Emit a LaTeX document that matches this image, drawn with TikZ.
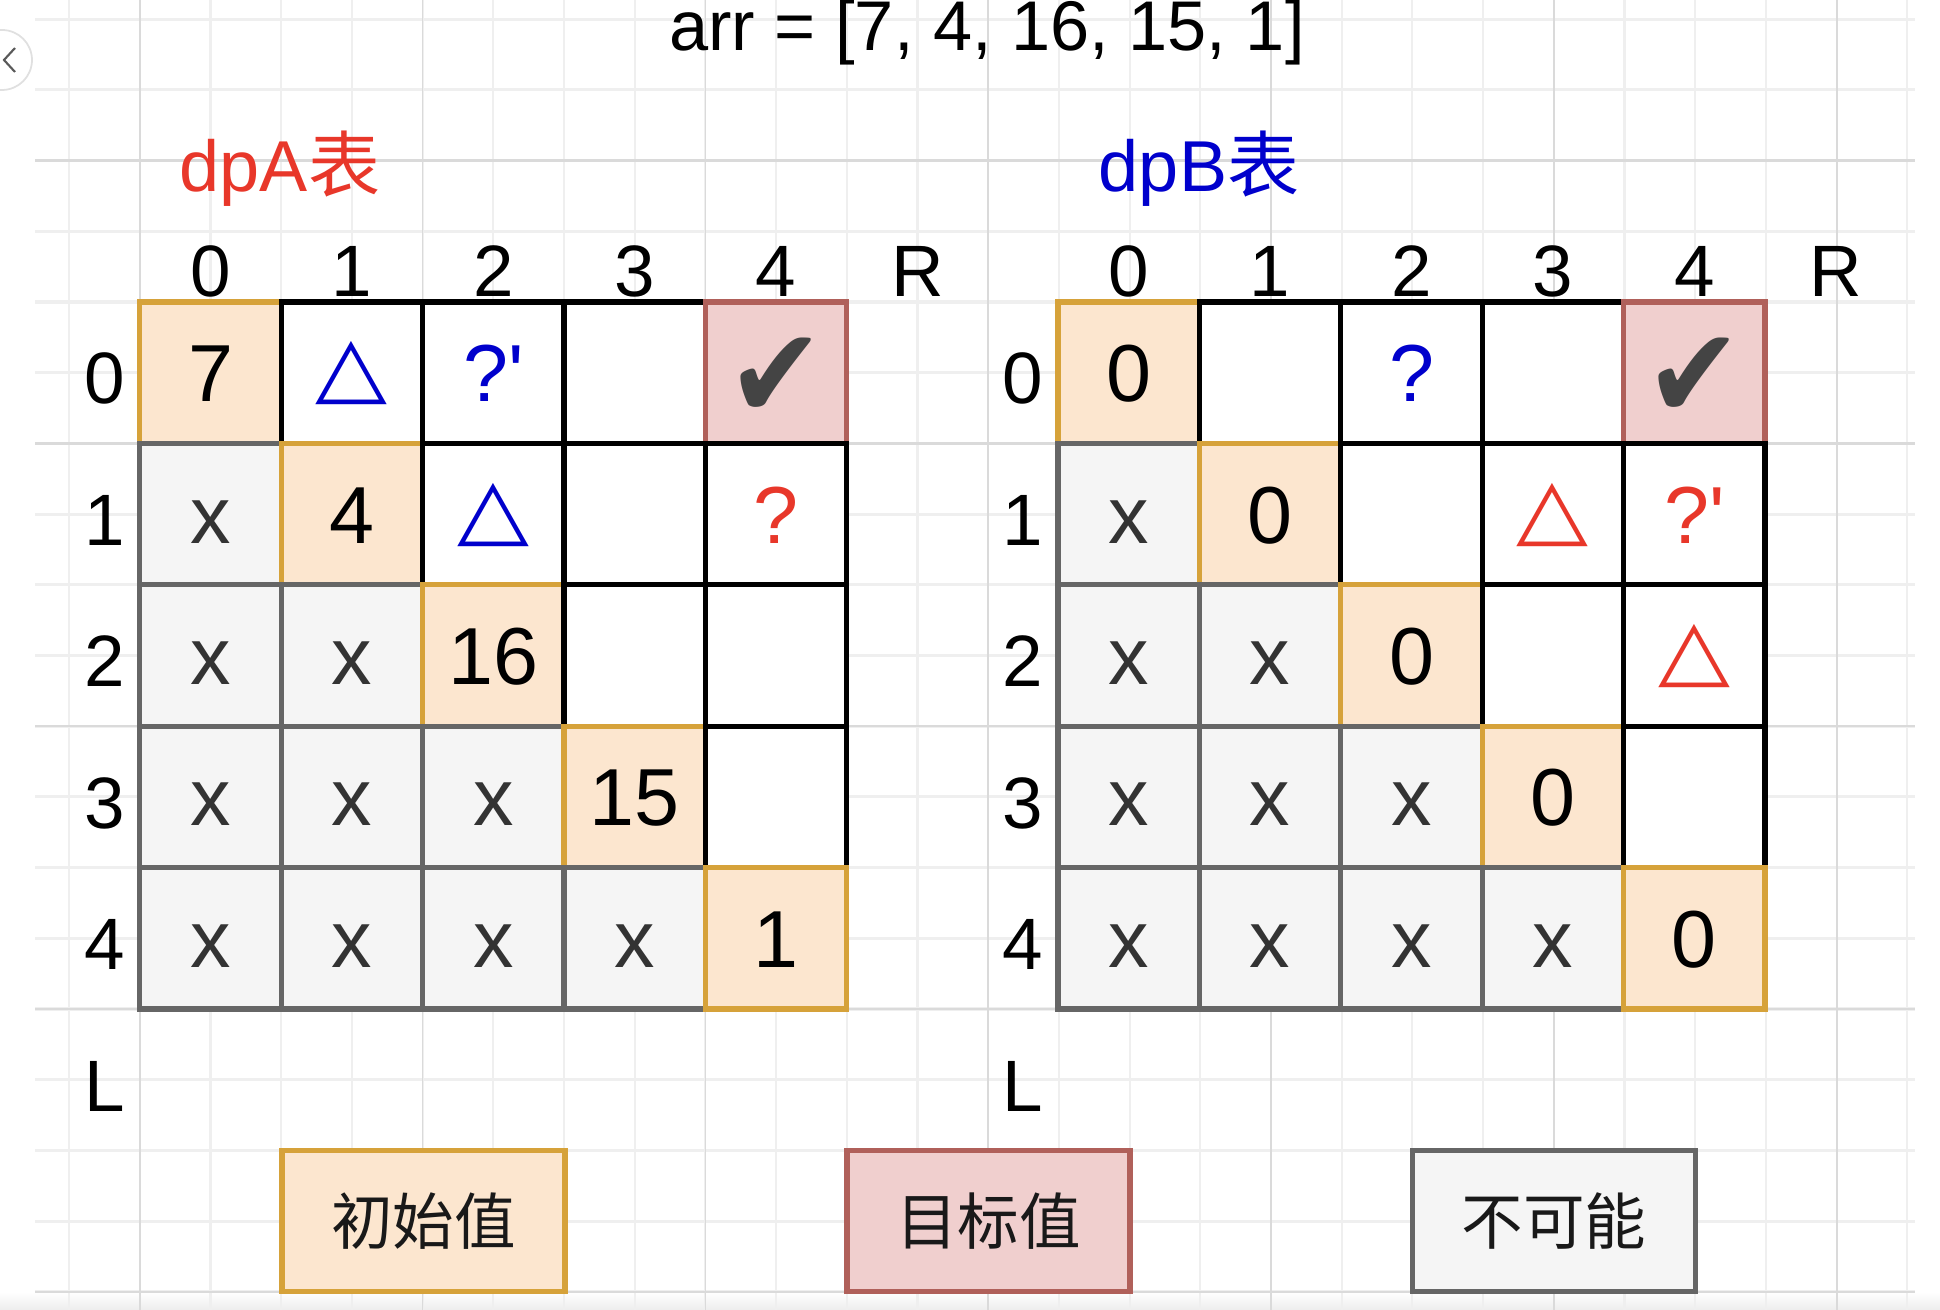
\documentclass[tikz,border=0pt]{standalone}
\usepackage{fontspec}
\setmainfont{Liberation Sans}
\newfontfamily\cjk{Noto Sans CJK SC}
\newfontfamily\symf{DejaVu Sans}

\definecolor{initfill}{HTML}{FCE6CF}
\definecolor{initline}{HTML}{D6A23A}
\definecolor{goalfill}{HTML}{F0CFCE}
\definecolor{goalline}{HTML}{B0605A}
\definecolor{nopefill}{HTML}{F5F5F5}
\definecolor{nopeline}{HTML}{666666}
\definecolor{markred}{HTML}{E8372A}
\definecolor{markblue}{HTML}{0000CC}
\definecolor{xgray}{HTML}{333333}
\definecolor{tickgray}{HTML}{444444}
\definecolor{bgminor}{HTML}{EFEFEF}
\definecolor{bgmajor}{HTML}{DADADA}

\newcommand{\trimark}{\raisebox{2pt}{\scalebox{0.95}[0.84]{\symf\fontsize{28}{28}\selectfont △}}}
\newcommand{\okmark}{\raisebox{-4.9pt}{\scalebox{1}[1.1]{\color{tickgray}\symf\fontsize{33}{33}\selectfont ✔}}}

\tikzset{
  box/.style={draw, line width=1.5pt, inner sep=0pt},
  cell/.style={box, minimum size=1.414cm, font=\fontsize{23}{23}\selectfont,
    text height=16.5pt, text depth=0pt},
  openc/.style={cell, fill=white, draw=black},
  initc/.style={cell, fill=initfill, draw=initline},
  goalc/.style={cell, fill=goalfill, draw=goalline},
  nopec/.style={cell, fill=nopefill, draw=nopeline, text=xgray},
  axis/.style={anchor=base, inner sep=0pt, font=\fontsize{20.7}{20.7}\selectfont},
  tabletitle/.style={anchor=base, inner sep=0pt, font=\fontsize{20.5}{20.5}\selectfont},
  legend/.style={box, minimum width=2.828cm, minimum height=1.414cm,
    font=\cjk\fontsize{17.5}{17.5}\selectfont, text=black!90}
}

\begin{document}
\begin{tikzpicture}[x=0.01cm, y=-0.01cm]
    \useasboundingbox (0,0) rectangle (1940,1310);
    % background grid
    \shade[top color=white, bottom color=black!7] (0,1292) rectangle (1940,1310);
    \foreach \i in {-1,...,25}
        \draw[bgminor, line width=0.6pt] ({139.8+70.7*\i},0) -- ({139.8+70.7*\i},1310);
    \foreach \j in {0,...,18}
        \draw[bgminor, line width=0.9pt] (35,{19.2+70.7*\j}) -- (1915,{19.2+70.7*\j});
    \foreach \i in {0,...,6}
        \draw[bgmajor, line width=0.5pt] ({139.8+282.8*\i},0) -- ({139.8+282.8*\i},1310);
    \foreach \j in {0,...,4}
        \draw[bgmajor, line width=0.7pt] (35,{160.6+282.8*\j}) -- (1915,{160.6+282.8*\j});
    % back button
    \draw[black!12, fill=white, line width=0.5pt] (2,60) circle (30);
    \draw[black!65, line width=0.6pt] (15,48) -- (4,60) -- (15,72);

    \node[anchor=base, inner sep=0pt, font=\fontsize{20}{20}\selectfont] (title) at (987,51) {arr = [7, 4, 16, 15, 1]};

    % dpA
    \node[tabletitle, text=markred] (Aname) at (280,192) {dpA{\cjk 表}};
    \foreach \c in {0,...,4}
        \node[axis] (Acol\c) at ({210.5+141.4*\c},297) {\c};
    \node[axis] (AR) at (917.5,297) {R};
    \foreach \r in {0,...,4}
        \node[axis] (Arow\r) at (105,{404+141.4*\r}) {\r};
    \node[axis] (AL) at (105,1111) {L};
    \foreach \r/\c/\k/\v in {0/0/initc/7, 0/1/openc/{\color{markblue}\trimark},
            0/2/openc/{\color{markblue}?\textquotesingle}, 0/3/openc/{}, 0/4/goalc/\okmark,
            1/0/nopec/x, 1/1/initc/4, 1/2/openc/{\color{markblue}\trimark}, 1/3/openc/{},
            1/4/openc/{\color{markred}?},
            2/0/nopec/x, 2/1/nopec/x, 2/2/initc/16, 2/3/openc/{}, 2/4/openc/{},
            3/0/nopec/x, 3/1/nopec/x, 3/2/nopec/x, 3/3/initc/15, 3/4/openc/{},
            4/0/nopec/x, 4/1/nopec/x, 4/2/nopec/x, 4/3/nopec/x, 4/4/initc/1}
        \node[\k] (A\r\c) at ({210.5+141.4*\c},{372.7+141.4*\r}) {\v};

    % dpB
    \node[tabletitle, text=markblue] (Bname) at (1199,192) {dpB{\cjk 表}};
    \foreach \c in {0,...,4}
        \node[axis] (Bcol\c) at ({1128.7+141.4*\c},297) {\c};
    \node[axis] (BR) at (1835.7,297) {R};
    \foreach \r in {0,...,4}
        \node[axis] (Brow\r) at (1023,{404+141.4*\r}) {\r};
    \node[axis] (BL) at (1023,1111) {L};
    \foreach \r/\c/\k/\v in {0/0/initc/0, 0/1/openc/{}, 0/2/openc/{\color{markblue}?},
            0/3/openc/{}, 0/4/goalc/\okmark,
            1/0/nopec/x, 1/1/initc/0, 1/2/openc/{}, 1/3/openc/{\color{markred}\trimark},
            1/4/openc/{\color{markred}?\textquotesingle},
            2/0/nopec/x, 2/1/nopec/x, 2/2/initc/0, 2/3/openc/{},
            2/4/openc/{\color{markred}\trimark},
            3/0/nopec/x, 3/1/nopec/x, 3/2/nopec/x, 3/3/initc/0, 3/4/openc/{},
            4/0/nopec/x, 4/1/nopec/x, 4/2/nopec/x, 4/3/nopec/x, 4/4/initc/0}
        \node[\k] (B\r\c) at ({1128.7+141.4*\c},{372.7+141.4*\r}) {\v};

    % legend
    \node[legend, fill=initfill, draw=initline] (kinit) at (423.6,1221) {初始值};
    \node[legend, fill=goalfill, draw=goalline] (kgoal) at (988.4,1221) {目标值};
    \node[legend, fill=nopefill, draw=nopeline] (knope) at (1553.8,1221) {不可能};
\end{tikzpicture}
\end{document}
